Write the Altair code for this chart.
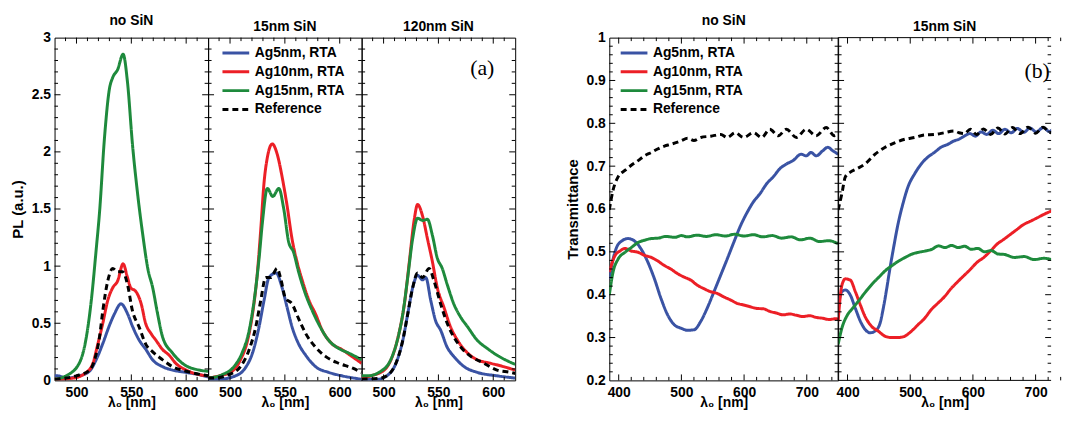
import altair as alt
import pandas as pd

FONT = "Liberation Sans"
SERIES = ["Ag5nm, RTA", "Ag10nm, RTA", "Ag15nm, RTA", "Reference"]
COLORS = ["#3a53a4", "#ec1f26", "#1e8a3c", "#000000"]
DASHES = [[1, 0], [1, 0], [1, 0], [6, 4]]

PANEL_TITLES_A = ["no SiN", "15nm SiN", "120nm SiN"]
PANEL_TITLES_B = ["no SiN", "15nm SiN"]
X_TITLE = "λ₀ [nm]"
Y_TITLE_A = "PL (a.u.)"
Y_TITLE_B = "Transmittance"
NOTES = ["(a)", "(b)"]
NOTE_A_POS = [590, 2.73]
NOTE_B_POS = [702.5, 0.923]

# ---------- (a) PL spectra ----------
a1_ag5_wl = [480, 483, 490.6, 502.7, 511.8, 517.9, 523.9, 530, 534.5, 540.6, 546.7, 551.2, 557.3, 563.3, 569.4, 578.5, 587.6, 599.7, 611.8, 620]
a1_ag5_pl = [0.04, 0.04, 0.02, 0.04, 0.08, 0.18, 0.32, 0.48, 0.58, 0.67, 0.58, 0.47, 0.35, 0.27, 0.18, 0.12, 0.09, 0.07, 0.05, 0.03]
a1_ag10_wl = [480, 497, 509, 515, 519, 524, 528.5, 533, 537.5, 542.5, 546.5, 549.5, 554, 559, 563, 568, 572.5, 578.5, 584.5, 590.5, 600, 612, 620]
a1_ag10_pl = [0.01, 0.02, 0.07, 0.15, 0.30, 0.50, 0.70, 0.81, 0.87, 1.02, 0.90, 0.81, 0.78, 0.67, 0.50, 0.41, 0.35, 0.27, 0.22, 0.15, 0.09, 0.05, 0.04]
a1_ag15_wl = [480, 490.5, 502.5, 509, 513.5, 518, 521, 525.5, 530, 533, 537.5, 542.5, 546.5, 551, 556, 560.5, 565, 569.5, 574, 578.5, 587.5, 596.5, 612, 620]
a1_ag15_pl = [0.01, 0.04, 0.15, 0.38, 0.70, 1.15, 1.47, 2.12, 2.55, 2.65, 2.72, 2.855, 2.61, 2.07, 1.61, 1.27, 0.98, 0.81, 0.58, 0.38, 0.24, 0.15, 0.09, 0.08]
a1_ref_wl = [480, 500, 512, 516.5, 521, 524, 528.5, 533, 537.5, 542, 546.5, 551, 557, 563, 569.5, 578.5, 587.5, 600, 620]
a1_ref_pl = [0.01, 0.04, 0.09, 0.18, 0.38, 0.61, 0.87, 0.98, 0.95, 0.95, 0.84, 0.61, 0.47, 0.32, 0.25, 0.18, 0.12, 0.08, 0.04]

a2_ag5_wl = [480, 490, 505, 514, 520.5, 526.5, 531, 535.5, 542, 547.5, 552, 556.5, 562.5, 569, 578, 590, 602, 620]
a2_ag5_pl = [0.01, 0.01, 0.04, 0.11, 0.24, 0.47, 0.70, 0.90, 0.94, 0.81, 0.64, 0.47, 0.32, 0.22, 0.12, 0.07, 0.04, 0.01]
a2_ag10_wl = [480, 490, 502, 509.5, 516, 520.5, 525, 528, 531, 534, 538.5, 543, 547.5, 552, 556.5, 561, 566, 572, 578, 584, 593, 602, 611, 620]
a2_ag10_pl = [0.02, 0.04, 0.08, 0.18, 0.35, 0.58, 0.95, 1.32, 1.73, 1.95, 2.07, 1.98, 1.78, 1.53, 1.24, 1.04, 0.87, 0.70, 0.58, 0.44, 0.32, 0.27, 0.21, 0.15]
a2_ag15_wl = [480, 493, 503.5, 511, 517.5, 522, 526.5, 529.5, 534, 539, 544.5, 549, 553.5, 558, 562.5, 569, 575, 581, 590, 599, 608, 620]
a2_ag15_pl = [0.02, 0.05, 0.12, 0.24, 0.44, 0.70, 1.07, 1.38, 1.68, 1.61, 1.68, 1.50, 1.21, 1.12, 0.95, 0.75, 0.61, 0.49, 0.35, 0.28, 0.24, 0.18]
a2_ref_wl = [480, 484, 499, 509.5, 517.5, 523.5, 528, 532.5, 537, 543, 546, 550.5, 556.5, 562.5, 569, 578, 587, 599, 611, 620]
a2_ref_pl = [0.02, 0.02, 0.05, 0.12, 0.27, 0.47, 0.70, 0.90, 0.90, 0.98, 0.90, 0.72, 0.67, 0.54, 0.41, 0.29, 0.21, 0.15, 0.11, 0.07]

a3_ag5_wl = [480, 494.5, 506.5, 512.5, 517.5, 522, 526.5, 531, 535.5, 538.5, 543, 547.5, 552, 558, 564, 573.5, 585.5, 603.5, 620]
a3_ag5_pl = [0.01, 0.01, 0.07, 0.18, 0.35, 0.58, 0.81, 0.92, 0.88, 0.90, 0.70, 0.52, 0.44, 0.29, 0.21, 0.12, 0.07, 0.04, 0.02]
a3_ag10_wl = [480, 488.5, 500.5, 508, 514, 519, 523.5, 528, 531, 535.5, 540, 544.5, 549, 555, 561, 567.5, 576.5, 585.5, 597.5, 609.5, 620]
a3_ag10_pl = [0.02, 0.04, 0.09, 0.21, 0.41, 0.67, 1.04, 1.41, 1.54, 1.44, 1.24, 1.04, 0.81, 0.64, 0.47, 0.35, 0.24, 0.18, 0.15, 0.12, 0.09]
a3_ag15_wl = [480, 485.5, 497.5, 506.5, 512.5, 517.5, 522, 526.5, 531, 535.5, 540, 544.5, 549, 553.5, 558, 564, 570.5, 576.5, 585.5, 594.5, 603.5, 620]
a3_ag15_pl = [0.04, 0.04, 0.08, 0.18, 0.35, 0.58, 0.90, 1.24, 1.42, 1.40, 1.41, 1.27, 1.07, 0.98, 0.84, 0.67, 0.55, 0.47, 0.35, 0.28, 0.22, 0.14]
a3_ref_wl = [480, 497.5, 506.5, 512.5, 517.5, 522, 526.5, 531, 535.5, 541.5, 546, 552, 558, 564, 570.5, 579.5, 591.5, 603.5, 616, 620]
a3_ref_pl = [0.01, 0.02, 0.07, 0.18, 0.35, 0.58, 0.81, 0.94, 0.90, 0.98, 0.87, 0.67, 0.50, 0.38, 0.29, 0.21, 0.15, 0.09, 0.07, 0.06]

# ---------- (b) Transmittance ----------
b1_ag5_wl = [385, 391, 396.5, 404.5, 415, 425.5, 436, 446.5, 457, 467.5, 478, 488.5, 499, 509.5, 520, 531, 541, 552, 562.5, 573, 583.5, 594, 604.5, 615, 625.5, 636, 646.5, 657, 667.5, 678, 691, 699, 707, 715, 725.5, 733.5, 741.5, 750]
b1_ag5_t = [0.437, 0.483, 0.510, 0.525, 0.531, 0.525, 0.506, 0.476, 0.437, 0.391, 0.353, 0.330, 0.322, 0.317, 0.318, 0.338, 0.368, 0.407, 0.445, 0.483, 0.522, 0.560, 0.591, 0.617, 0.636, 0.659, 0.675, 0.694, 0.705, 0.713, 0.728, 0.724, 0.732, 0.724, 0.736, 0.744, 0.736, 0.728]
b1_ag10_wl = [385, 394, 402, 410, 420, 431, 441, 452, 462, 473, 483, 494, 504.5, 515, 525.5, 536, 546.5, 557, 567.5, 578, 588.5, 599, 609.5, 620, 631, 641, 652, 662, 673, 683.5, 694, 704.5, 715, 725.5, 736, 746.5, 750]
b1_ag10_t = [0.453, 0.491, 0.502, 0.508, 0.502, 0.499, 0.492, 0.487, 0.479, 0.468, 0.460, 0.449, 0.441, 0.434, 0.422, 0.414, 0.407, 0.403, 0.395, 0.388, 0.380, 0.376, 0.372, 0.368, 0.367, 0.361, 0.357, 0.353, 0.355, 0.352, 0.349, 0.351, 0.347, 0.345, 0.342, 0.344, 0.343]
b1_ag15_wl = [385, 391, 399, 410, 420, 431, 441, 452, 463, 475, 490, 500, 510, 525, 540, 555, 570, 585, 600, 615, 630, 645, 660, 675, 690, 705, 720, 735, 750]
b1_ag15_t = [0.399, 0.453, 0.483, 0.499, 0.510, 0.522, 0.527, 0.531, 0.532, 0.536, 0.534, 0.538, 0.535, 0.539, 0.536, 0.540, 0.537, 0.541, 0.537, 0.540, 0.535, 0.538, 0.532, 0.535, 0.528, 0.532, 0.524, 0.526, 0.519]
b1_ref_wl = [385, 391, 399, 410, 420, 431, 441, 452, 462, 473, 483, 499, 510, 520, 531, 547, 563, 573, 586, 599, 615, 628, 641, 654.5, 667.5, 683.5, 699, 715, 731, 744, 750]
b1_ref_t = [0.598, 0.644, 0.675, 0.690, 0.702, 0.713, 0.724, 0.732, 0.740, 0.747, 0.751, 0.759, 0.765, 0.760, 0.767, 0.770, 0.774, 0.767, 0.778, 0.767, 0.778, 0.767, 0.786, 0.771, 0.786, 0.767, 0.786, 0.771, 0.790, 0.771, 0.774]

b2_ag5_wl = [385, 391, 396.5, 404.5, 412.5, 420.5, 428, 436, 444, 452, 457, 462.5, 467.5, 473, 481, 488.5, 496.5, 507, 517.5, 528, 538.5, 549, 560, 570, 578, 586, 595, 604, 613, 622, 632, 641, 651, 661, 671, 681, 691, 701, 712, 722, 732, 737.5]
b2_ag5_t = [0.376, 0.407, 0.411, 0.399, 0.368, 0.338, 0.319, 0.311, 0.315, 0.334, 0.368, 0.414, 0.460, 0.506, 0.568, 0.613, 0.652, 0.682, 0.705, 0.721, 0.732, 0.744, 0.751, 0.759, 0.763, 0.770, 0.776, 0.770, 0.780, 0.774, 0.784, 0.776, 0.786, 0.778, 0.788, 0.779, 0.789, 0.780, 0.790, 0.781, 0.790, 0.786]
b2_ag10_wl = [385, 391, 396.5, 404.5, 412.5, 420.5, 428, 438.5, 449, 460, 470, 481, 491, 502, 512.5, 523, 533.5, 544, 554.5, 565, 575.5, 586, 596.5, 607, 617.5, 628, 638.5, 649, 660, 670, 681, 691, 702, 712.5, 723, 737.5]
b2_ag10_t = [0.338, 0.422, 0.437, 0.434, 0.407, 0.376, 0.349, 0.326, 0.315, 0.303, 0.300, 0.300, 0.303, 0.315, 0.330, 0.345, 0.365, 0.380, 0.395, 0.414, 0.430, 0.445, 0.460, 0.476, 0.487, 0.502, 0.518, 0.529, 0.541, 0.552, 0.564, 0.571, 0.579, 0.587, 0.594, 0.602]
b2_ag15_wl = [385, 391, 400, 408, 419, 429, 440, 450, 461, 471, 482, 492, 503, 513.5, 524, 534.5, 545, 555.5, 566, 576.5, 587, 597.5, 608, 618.5, 629, 640, 650, 666, 682, 697.5, 713.5, 729, 737.5]
b2_ag15_t = [0.284, 0.322, 0.353, 0.368, 0.388, 0.407, 0.426, 0.441, 0.457, 0.468, 0.479, 0.487, 0.495, 0.499, 0.502, 0.506, 0.514, 0.510, 0.515, 0.510, 0.513, 0.506, 0.508, 0.500, 0.503, 0.495, 0.494, 0.487, 0.489, 0.482, 0.485, 0.482, 0.487]
b2_ref_wl = [385, 391, 396.5, 404.5, 415, 428, 444, 460, 476, 492, 507, 523, 539, 554.5, 570, 578, 586, 596, 606, 617, 628, 640, 651, 663, 675, 688, 700, 712, 724, 735, 737.5]
b2_ref_t = [0.598, 0.636, 0.675, 0.686, 0.694, 0.705, 0.728, 0.744, 0.755, 0.763, 0.767, 0.773, 0.774, 0.778, 0.782, 0.778, 0.776, 0.786, 0.774, 0.787, 0.774, 0.789, 0.775, 0.790, 0.776, 0.791, 0.777, 0.791, 0.778, 0.792, 0.790]

# ---------- tick definitions ----------
A_X_LABELS = [500, 550, 600]
A_X_MAJOR = [500, 550, 600]
A_X_MINOR = [490, 510, 520, 530, 540, 560, 570, 580, 590, 610]
A_Y_LABELS = [0, 0.5, 1, 1.5, 2, 2.5, 3]
A_Y_MAJOR = [0.5, 1, 1.5, 2, 2.5]
A_Y_MINOR = [round(i / 10, 1) for i in range(1, 30) if i % 5 != 0]
B_X_LABELS = [400, 500, 600, 700]
B_X_MAJOR = [400, 500, 600, 700]
B_X_MINOR = [v for v in range(400, 750, 20) if v % 100 != 0]
B_Y_LABELS = [0.2, 0.3, 0.4, 0.5, 0.6, 0.7, 0.8, 0.9, 1.0]
B_Y_MAJOR = [0.3, 0.4, 0.5, 0.6, 0.7, 0.8, 0.9]
B_Y_MINOR = [round(i / 100, 2) for i in range(22, 100, 2) if i % 10 != 0]

MAJ_LEN = 6
MIN_LEN = 3.5
LABEL_EXPR = "'' + datum.value"


def build_df(pairs):
    rows = []
    for name, (wl, val) in zip(SERIES, pairs):
        for i, (a, b) in enumerate(zip(wl, val)):
            rows.append({"series": name, "wl": a, "val": b, "idx": i})
    return pd.DataFrame(rows)


def panel(pairs, xdom, ydom, w, h, title, xlabels, xmaj, xmin, ymaj, ymin,
          ylabels=None, ytitle=None, legend_xy=None, note=None, note_pos=None,
          right_border=True):
    df = build_df(pairs)
    xs = alt.Scale(domain=xdom, nice=False, zero=False)
    ys = alt.Scale(domain=ydom, nice=False, zero=False)
    xaxis = alt.Axis(values=xlabels, title=X_TITLE, ticks=False, tickSize=0, domain=False,
                     grid=False, labelFont=FONT, labelFontSize=14, labelFontWeight="bold",
                     labelColor="black", labelPadding=5, labelFlush=False, labelOverlap=False,
                     titleFont=FONT, titleFontSize=14, titleFontWeight="bold",
                     titleColor="black", titleY=15, titleBaseline="top", labelExpr=LABEL_EXPR)
    if ylabels is not None:
        yaxis = alt.Axis(values=ylabels, title=ytitle, ticks=False, tickSize=0, domain=False,
                         grid=False, labelFont=FONT, labelFontSize=14, labelFontWeight="bold",
                         labelColor="black", labelPadding=4, labelFlush=False,
                         labelOverlap=False, titleFont=FONT, titleFontSize=15,
                         titleFontWeight="bold", titleColor="black", titlePadding=6,
                         labelExpr=LABEL_EXPR)
    else:
        yaxis = None

    if legend_xy is not None:
        leg = alt.Legend(orient="none", legendX=legend_xy[0], legendY=legend_xy[1], title=None,
                         symbolType="stroke", symbolSize=729, symbolStrokeWidth=3,
                         labelFont=FONT, labelFontSize=14, labelFontWeight="bold",
                         labelColor="black", labelOffset=4, clipHeight=19, rowPadding=0,
                         padding=0, labelLimit=300)
    else:
        leg = None

    X = lambda f: alt.X(f, scale=xs, axis=xaxis)
    Y = lambda f: alt.Y(f, scale=ys, axis=yaxis)

    lines = alt.Chart(df).mark_line(strokeWidth=3, clip=True, interpolate="monotone").encode(
        x=X("wl:Q"), y=Y("val:Q"),
        color=alt.Color("series:N", scale=alt.Scale(domain=SERIES, range=COLORS), legend=leg),
        strokeDash=alt.StrokeDash("series:N", scale=alt.Scale(domain=SERIES, range=DASHES), legend=leg),
        order="idx:Q",
    )
    layers = [lines]
    for vals, L in ((xmaj, MAJ_LEN), (xmin, MIN_LEN)):
        d = pd.DataFrame({"v": vals})
        base = alt.Chart(d).mark_rule(color="black", strokeWidth=1)
        layers.append(base.encode(x=X("v:Q"), y=alt.value(h), y2=alt.value(h - L)))
        layers.append(base.encode(x=X("v:Q"), y=alt.value(0), y2=alt.value(L)))
    for vals, L in ((ymaj, MAJ_LEN), (ymin, MIN_LEN)):
        d = pd.DataFrame({"v": vals})
        base = alt.Chart(d).mark_rule(color="black", strokeWidth=1)
        layers.append(base.encode(y=Y("v:Q"), x=alt.value(0), x2=alt.value(L)))
        layers.append(base.encode(y=Y("v:Q"), x=alt.value(w), x2=alt.value(w - L)))
    if note is not None:
        nd = pd.DataFrame({"wl": [note_pos[0]], "val": [note_pos[1]], "label": [note]})
        layers.append(alt.Chart(nd).mark_text(font="Liberation Serif", fontSize=22,
                                              color="black", align="center", baseline="middle")
                      .encode(x=X("wl:Q"), y=Y("val:Q"), text="label:N"))
    props = dict(width=w, height=h,
                 title=alt.TitleParams(title, font=FONT, fontSize=14, fontWeight="bold",
                                       color="black", anchor="middle", frame="group",
                                       offset=3))
    if not right_border:
        frame = alt.Chart(pd.DataFrame({"k": [0]})).mark_rule(color="black", strokeWidth=1)
        layers.append(frame.encode(x=alt.value(0), x2=alt.value(w), y=alt.value(0)))
        layers.append(frame.encode(x=alt.value(0), x2=alt.value(w), y=alt.value(h)))
        layers.append(frame.encode(x=alt.value(0), y=alt.value(0), y2=alt.value(h)))
        props["view"] = alt.ViewBackground(stroke="transparent")
    return alt.layer(*layers).properties(**props)


AW, AH = 155, 346
BH = 346
GAP = 95
B2W = 215
B2_MAX = 385 + B2W * 365 / 231
a1 = panel([(a1_ag5_wl, a1_ag5_pl), (a1_ag10_wl, a1_ag10_pl), (a1_ag15_wl, a1_ag15_pl), (a1_ref_wl, a1_ref_pl)],
           [480, 620], [0, 3], AW, AH, PANEL_TITLES_A[0], A_X_LABELS, A_X_MAJOR, A_X_MINOR,
           A_Y_MAJOR, A_Y_MINOR, ylabels=A_Y_LABELS, ytitle=Y_TITLE_A)
a2 = panel([(a2_ag5_wl, a2_ag5_pl), (a2_ag10_wl, a2_ag10_pl), (a2_ag15_wl, a2_ag15_pl), (a2_ref_wl, a2_ref_pl)],
           [480, 620], [0, 3], AW, AH, PANEL_TITLES_A[1], A_X_LABELS, A_X_MAJOR, A_X_MINOR,
           A_Y_MAJOR, A_Y_MINOR, legend_xy=(13, 6))
a3 = panel([(a3_ag5_wl, a3_ag5_pl), (a3_ag10_wl, a3_ag10_pl), (a3_ag15_wl, a3_ag15_pl), (a3_ref_wl, a3_ref_pl)],
           [480, 620], [0, 3], AW, AH, PANEL_TITLES_A[2], A_X_LABELS, A_X_MAJOR, A_X_MINOR,
           A_Y_MAJOR, A_Y_MINOR, note=NOTES[0], note_pos=NOTE_A_POS)
b1 = panel([(b1_ag5_wl, b1_ag5_t), (b1_ag10_wl, b1_ag10_t), (b1_ag15_wl, b1_ag15_t), (b1_ref_wl, b1_ref_t)],
           [385, 750], [0.2, 1.0], 231, BH, PANEL_TITLES_B[0], B_X_LABELS, B_X_MAJOR, B_X_MINOR,
           B_Y_MAJOR, B_Y_MINOR, ylabels=B_Y_LABELS, ytitle=Y_TITLE_B, legend_xy=(10, 6))
b2 = panel([(b2_ag5_wl, b2_ag5_t), (b2_ag10_wl, b2_ag10_t), (b2_ag15_wl, b2_ag15_t), (b2_ref_wl, b2_ref_t)],
           [385, B2_MAX], [0.2, 1.0], B2W, BH, PANEL_TITLES_B[1], B_X_LABELS, B_X_MAJOR, B_X_MINOR,
           B_Y_MAJOR, B_Y_MINOR, note=NOTES[1], note_pos=NOTE_B_POS, right_border=False)

spacer = alt.Chart(pd.DataFrame({"k": [0]})).mark_point(opacity=0, size=1).encode(
    x=alt.value(1), y=alt.value(1)
).properties(width=GAP, height=AH, view=alt.ViewBackground(stroke="transparent"))

chart = alt.hconcat(a1, a2, a3, spacer, b1, b2, spacing=0, bounds="flush").resolve_scale(
    x="independent", y="independent", color="independent", strokeDash="independent"
).resolve_legend(color="independent", strokeDash="independent").properties(
    padding={"left": 2, "top": 3, "right": 0, "bottom": 0}
).configure_view(stroke="black", strokeWidth=1)

chart.save("out.html", embed_options={"renderer": "svg", "actions": False})
